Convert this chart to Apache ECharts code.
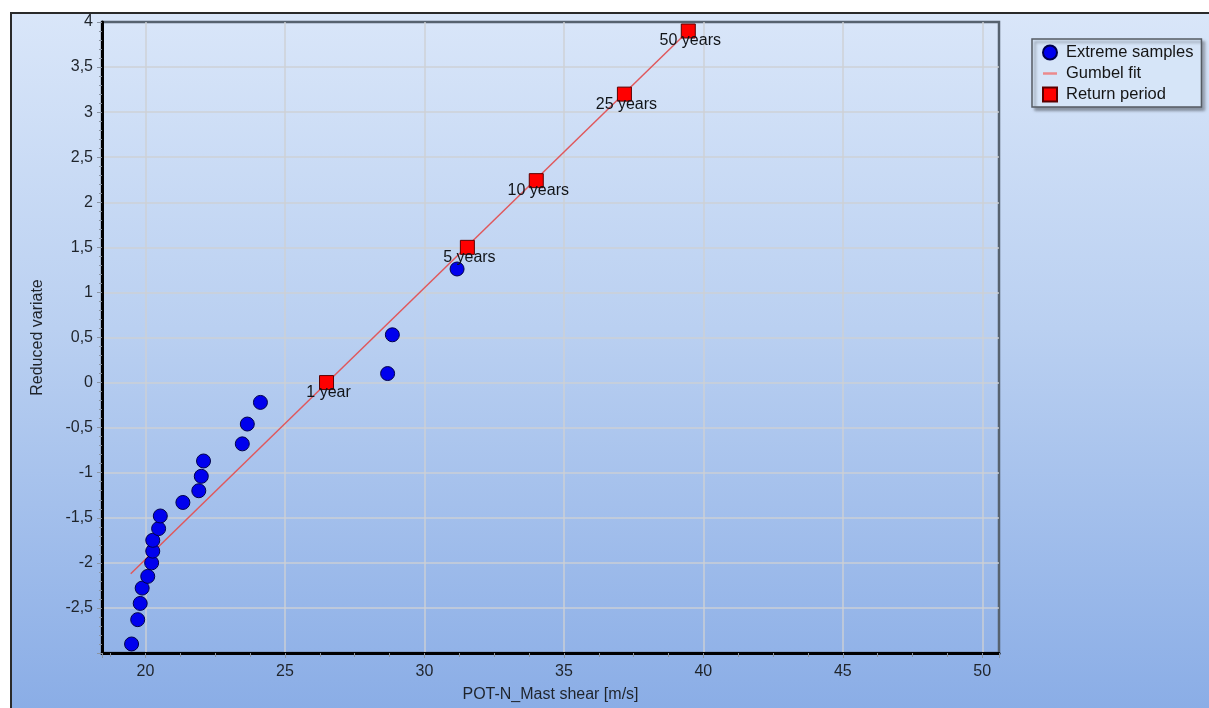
<!DOCTYPE html>
<html>
<head>
<meta charset="utf-8">
<script src="https://cdn.jsdelivr.net/npm/echarts@6/dist/echarts.min.js"></script>
<style>
  html, body { margin: 0; padding: 0; background: #ffffff; }
  #wrap { position: relative; width: 1209px; height: 708px; overflow: hidden; background: #ffffff; }
  #frame { position: absolute; left: 10px; top: 12px; right: -4px; bottom: -4px;
           border-left: 2px solid #2a2a2a; border-top: 2px solid #2a2a2a;
           background: linear-gradient(to bottom, #d9e6f9 0%, #bad0f1 45%, #8aade6 100%); }
  #chart { position: absolute; left: 0; top: 0; width: 1209px; height: 708px; }
</style>
</head>
<body>
<div id="wrap">
  <div id="frame"></div>
  <div id="chart"></div>
</div>
<script>
// Extreme samples (x = wind speed, y = reduced variate)
const sampleX = [19.50, 19.72, 19.81, 19.88, 20.08, 20.22, 20.26, 20.26, 20.47, 20.53,
                 21.34, 21.91, 22.00, 22.08, 23.47, 23.65, 24.12, 28.68, 28.85, 31.17];
const sampleY = [-2.90, -2.63, -2.45, -2.28, -2.15, -2.00, -1.87, -1.75, -1.62, -1.48,
                 -1.33, -1.20, -1.04, -0.87, -0.68, -0.46, -0.22, 0.10, 0.53, 1.26];
// Gumbel fit line end points
const fitX = [19.47, 39.46];
const fitY = [-2.12, 3.90];
// Return periods
const periodLabels = ['1 year', '5 years', '10 years', '25 years', '50 years'];
const periodX = [26.49, 31.54, 34.01, 37.17, 39.46];
const periodY = [0, 1.50, 2.24, 3.20, 3.90];
// Axis settings
const xMin = 18.44, xMax = 50.6;
const yMin = -3, yMax = 4, yStep = 0.5;

const FONT = '"Liberation Sans", Arial, sans-serif';
const TXT = '#1f242b';

const chart = echarts.init(document.getElementById('chart'), null, { renderer: 'canvas' });

const lineIcon = 'path://M0,0 L0.01,0 L0.01,0.01 L0,0.01 Z M0,5.8 L14,5.8 L14,8.2 L0,8.2 Z M13.99,13.99 L14,13.99 L14,14 L13.99,14 Z';

const option = {
  backgroundColor: 'transparent',
  animation: false,
  grid: {
    left: 102, top: 22, width: 897, height: 631,
    show: true, borderColor: '#56626f', borderWidth: 2.5, backgroundColor: 'transparent'
  },
  legend: {
    orient: 'vertical',
    left: 1032, top: 39,
    padding: [5, 8, 4, 10],
    itemWidth: 14, itemHeight: 14, itemGap: 4,
    backgroundColor: '#d6e5f8',
    borderColor: '#555b63', borderWidth: 1.5, borderRadius: 0,
    shadowColor: 'rgba(0,0,0,0.35)', shadowBlur: 3, shadowOffsetX: 3, shadowOffsetY: 3,
    textStyle: { fontFamily: FONT, fontSize: 16.5, color: '#151515', lineHeight: 14, padding: [0, 0, 0, 4] },
    data: [
      { name: 'Extreme samples', icon: 'circle' },
      { name: 'Gumbel fit', icon: lineIcon },
      { name: 'Return period', icon: 'rect' }
    ]
  },
  xAxis: {
    type: 'value',
    min: xMin, max: xMax,
    name: 'POT-N_Mast shear [m/s]',
    nameLocation: 'middle', nameGap: 34,
    nameTextStyle: { fontFamily: FONT, fontSize: 16, color: TXT },
    axisLine: { show: true, onZero: false, lineStyle: { color: '#000000', width: 3 } },
    axisTick: { show: true, length: 5, lineStyle: { color: '#8a94a2', width: 1 } },
    minorTick: { show: true, splitNumber: 4, length: 4, lineStyle: { color: '#8a94a2', width: 1 } },
    axisLabel: {
      fontFamily: FONT, fontSize: 16, color: TXT, margin: 11,
      formatter: function (v) {
        const r = Math.round(v);
        return (Math.abs(v - r) < 1e-6 && r % 5 === 0) ? String(r) : '';
      }
    },
    splitLine: { show: true, showMinLine: false, showMaxLine: false,
                 lineStyle: { color: 'rgba(205,208,212,0.7)', width: 2 } }
  },
  yAxis: {
    type: 'value',
    min: yMin, max: yMax, interval: yStep,
    name: 'Reduced variate',
    nameLocation: 'middle', nameGap: 56, nameRotate: 90,
    nameTextStyle: { fontFamily: FONT, fontSize: 16, color: TXT },
    axisLine: { show: true, onZero: false, lineStyle: { color: '#000000', width: 3 } },
    axisTick: { show: true, length: 5, lineStyle: { color: '#8a94a2', width: 1 } },
    minorTick: { show: true, splitNumber: 5, length: 3, lineStyle: { color: '#8a94a2', width: 1 } },
    axisLabel: {
      fontFamily: FONT, fontSize: 16, color: TXT, margin: 9, showMinLabel: false,
      formatter: function (v) { return String(v).replace('.', ','); }
    },
    splitLine: { show: true, showMinLine: false, showMaxLine: false,
                 lineStyle: { color: 'rgba(205,208,212,0.7)', width: 2 } }
  },
  series: [
    {
      name: 'Gumbel fit',
      type: 'line',
      z: 2,
      symbol: 'none',
      lineStyle: { color: '#e0585c', width: 1.5 },
      itemStyle: { color: '#ec8a8c' },
      data: fitX.map((x, i) => [x, fitY[i]])
    },
    {
      name: 'Return period',
      type: 'scatter',
      z: 4,
      symbol: 'rect',
      symbolSize: 14,
      itemStyle: { color: '#ff0000', borderColor: '#5a0000', borderWidth: 1, opacity: 1 },
      label: {
        show: true, position: 'inside', offset: [2, 10],
        fontFamily: FONT, fontSize: 16, color: '#111418',
        formatter: function (p) { return p.name; }
      },
      data: periodX.map((x, i) => ({ name: periodLabels[i], value: [x, periodY[i]] }))
    },
    {
      name: 'Extreme samples',
      type: 'scatter',
      z: 3,
      symbol: 'circle',
      symbolSize: 14,
      itemStyle: { color: '#0000ee', borderColor: '#00004a', borderWidth: 1, opacity: 1 },
      data: sampleX.map((x, i) => [x, sampleY[i]])
    }
  ]
};
chart.setOption(option);
</script>
</body>
</html>
